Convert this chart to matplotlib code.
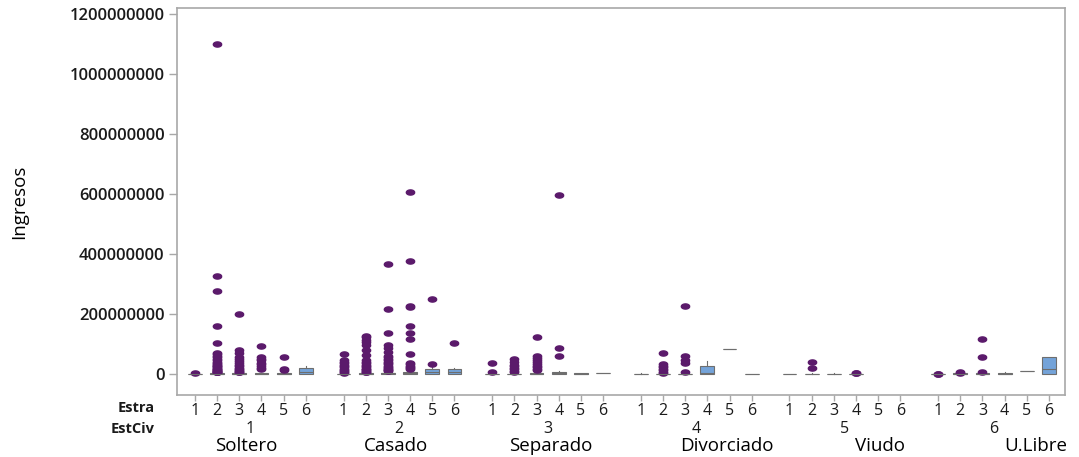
import numpy as np
import matplotlib
matplotlib.use('Agg')
import matplotlib.pyplot as plt
from matplotlib.path import Path
from matplotlib.ticker import FuncFormatter

# =========================
# DATA (Ingresos en millones)
# =========================
estado_civil = ['Soltero', 'Casado', 'Separado', 'Divorciado', 'Viudo', 'U.Libre']
estratos = [1, 2, 3, 4, 5, 6]

# filas = estado civil, columnas = estrato (None = sin datos)
q1 = [
    [0, 0.5, 0.5, 0, 0, 1],
    [0, 0.5, 0.5, 1, 0, 0],
    [0, 0, 0.5, 0, 0, 2],
    [0, 0, 0, 0, 83, 0],
    [0, 0, 0, 0, None, None],
    [0, 0, 0, 0, 11, 0],
]
mediana = [
    [0.5, 1, 1.5, 1, 1, 8],
    [0.5, 1.5, 2, 3, 6, 8],
    [0.5, 0.5, 1, 3, 1, 2],
    [0.5, 0.5, 0.5, 4, 83, 0.5],
    [0, 0.5, 0.5, 0.5, None, None],
    [0.5, 1, 1, 1, 11, 16],
]
q3 = [
    [1, 2, 3, 2, 2, 19],
    [1, 3, 4, 6, 15, 15],
    [1, 1.5, 3, 7, 2, 2],
    [1, 1.5, 1.5, 25, 83, 1],
    [0, 1.5, 1, 1, None, None],
    [1, 2, 2, 3, 11, 55],
]
bigote_sup = [
    [2, 4, 6, 4, 4, 25],
    [2, 6, 8, 12, 22, 21],
    [2, 3, 6, 10, 3, 2],
    [3, 3, 3, 43, 83, 1.5],
    [0, 3, 2, 2, None, None],
    [2, 3, 4, 6, 11, 55],
]

atipicos_soltero = [
    [2],
    [1100, 327, 275, 160, 103, 70, 65, 60, 55, 50, 45, 40, 37, 34, 31, 28, 25,
     22, 20, 18, 16, 14, 12, 10, 9, 8, 7, 6, 5],
    [200, 80, 70, 58, 50, 44, 36, 30, 25, 20, 16, 13, 10, 8, 7],
    [94, 58, 50, 45, 38, 32, 26, 20, 15],
    [58, 16, 12],
    [],
]
atipicos_casado = [
    [67, 45, 40, 35, 30, 26, 22, 18, 14, 10, 7, 4],
    [128, 124, 113, 108, 95, 80, 63, 47, 40, 35, 30, 26, 22, 18, 15, 12, 10, 8, 7],
    [365, 217, 136, 97, 87, 74, 60, 55, 50, 45, 40, 36, 32, 28, 24, 20, 17, 14, 12, 10],
    [605, 375, 227, 223, 160, 138, 116, 67, 38, 33, 28, 23, 19, 16],
    [250, 33],
    [102],
]
atipicos_separado = [
    [36, 8],
    [49, 40, 30, 25, 20, 15, 10, 6],
    [124, 60, 52, 47, 40, 34, 28, 22, 17, 12],
    [598, 86, 60],
    [],
    [],
]
atipicos_divorciado = [
    [],
    [69, 33, 28, 23, 18, 13, 8, 4],
    [225, 60, 45, 37, 7],
    [],
    [],
    [],
]
atipicos_viudo = [
    [],
    [41, 19],
    [],
    [3, 4],
    [],
    [],
]
atipicos_ulibre = [
    [1, 1.5],
    [4, 5],
    [117, 58, 8],
    [],
    [],
    [],
]
atipicos = [atipicos_soltero, atipicos_casado, atipicos_separado,
            atipicos_divorciado, atipicos_viudo, atipicos_ulibre]

# =========================
# THEME
# =========================
PURPLE = '#5b1a6b'
BOX_FILL = '#74a3d9'
BOX_EDGE = '#6e6e6e'
FRAME = '#a8a8a8'
TEXT = '#1a1a1a'
FONT = 'Open Sans'
GROUP_STEP = 6.7

plt.rcParams['font.family'] = [FONT, 'DejaVu Sans']

# elliptical outlier marker
t = np.linspace(0, 2 * np.pi, 40)
ellipse = Path(np.column_stack([np.cos(t), 0.62 * np.sin(t)]))

stats, positions = [], []
for g in range(len(estado_civil)):
    for e in range(len(estratos)):
        if q1[g][e] is None:
            continue
        stats.append({
            'q1': q1[g][e] * 1e6,
            'med': mediana[g][e] * 1e6,
            'q3': q3[g][e] * 1e6,
            'whislo': q1[g][e] * 1e6,
            'whishi': bigote_sup[g][e] * 1e6,
            'fliers': np.array(atipicos[g][e]) * 1e6,
        })
        positions.append(g * GROUP_STEP + estratos[e])

fig = plt.figure(figsize=(10.79, 4.57), dpi=100)
ax = fig.add_axes([0.164, 0.1357, 0.823, 0.8468])

ax.bxp(
    stats, positions=positions, widths=0.62, patch_artist=True, showcaps=False,
    boxprops=dict(facecolor=BOX_FILL, edgecolor=BOX_EDGE, linewidth=0.8),
    medianprops=dict(color=BOX_EDGE, linewidth=0.8),
    whiskerprops=dict(color=BOX_EDGE, linewidth=0.8),
    flierprops=dict(marker=ellipse, markerfacecolor=PURPLE, markeredgecolor=PURPLE,
                    markersize=6, linestyle='none'),
)

ax.set_xlim(0.19, 5 * GROUP_STEP + 6.72)
ax.set_ylim(-70e6, 1220e6)
ax.set_yticks(np.arange(0, 1.2e9 + 1, 2e8))
ax.yaxis.set_major_formatter(FuncFormatter(lambda v, p: f'{v:.0f}'))

all_x = [g * GROUP_STEP + e for g in range(len(estado_civil)) for e in estratos]
ax.set_xticks(all_x)
ax.set_xticklabels([str(e) for g in estado_civil for e in estratos])

for s in ax.spines.values():
    s.set_color(FRAME)
    s.set_linewidth(1.2)

ax.tick_params(axis='y', length=6, width=1, color=FRAME, pad=3,
               labelsize=12, labelcolor=TEXT)
for lbl in ax.get_yticklabels():
    lbl.set_fontweight('semibold')
ax.tick_params(axis='x', length=4, width=1, color=FRAME, pad=1.5,
               labelsize=11.5, labelcolor=TEXT)

ax.set_ylabel('Ingresos', fontsize=13.5, color='black')
ax.yaxis.set_label_coords(-0.168, 0.50)

# group labels under the axis
name_shift = [-0.2, -0.15, 0.15, 1.4, 1.6, 1.9]
for g, name in enumerate(estado_civil):
    cx = g * GROUP_STEP + 3.5
    ax.annotate(str(g + 1), xy=(cx, 0), xycoords=('data', 'axes fraction'),
                xytext=(0, -24.5), textcoords='offset points',
                ha='center', va='center', fontsize=11.5, color=TEXT)
    ax.annotate(name, xy=(cx + name_shift[g], 0), xycoords=('data', 'axes fraction'),
                xytext=(0, -36.5), textcoords='offset points',
                ha='center', va='center', fontsize=13.5, color='black')

fig.text(155 / 1079, 1 - 408 / 457, 'Estra', ha='right', va='center',
         fontsize=10.5, fontweight='bold', color=TEXT)
fig.text(155 / 1079, 1 - 429 / 457, 'EstCiv', ha='right', va='center',
         fontsize=10.5, fontweight='bold', color=TEXT)

fig.savefig('out.png', dpi=100)
